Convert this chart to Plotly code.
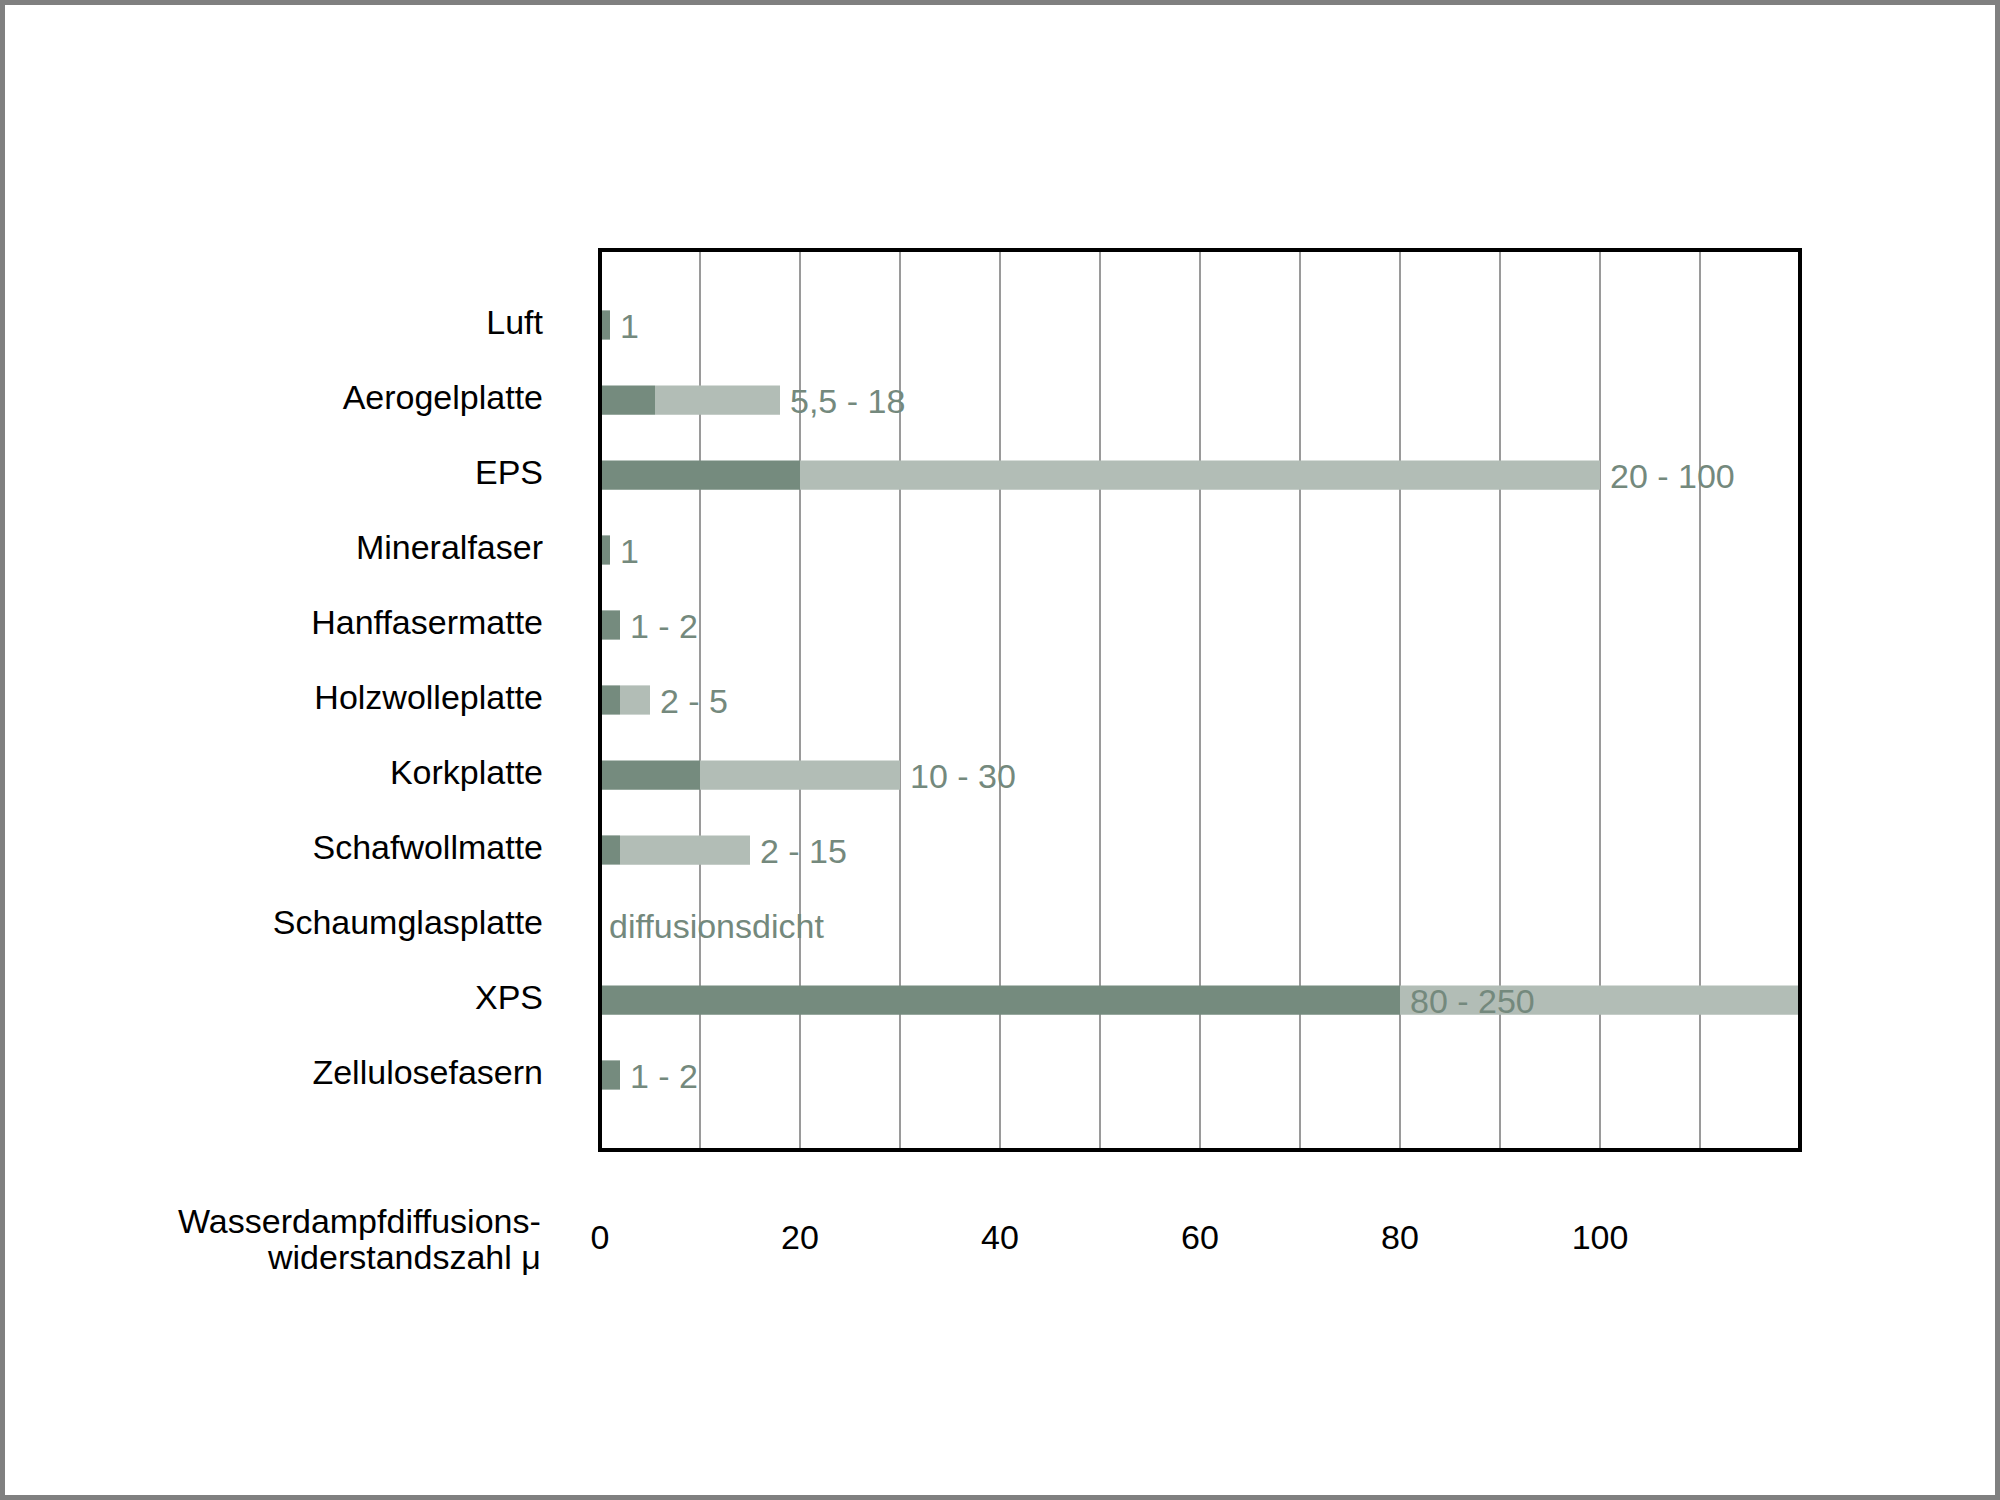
import plotly.graph_objects as go

# ---- data ----
materials = ["Luft", "Aerogelplatte", "EPS", "Mineralfaser", "Hanffasermatte",
             "Holzwolleplatte", "Korkplatte", "Schafwollmatte", "Schaumglasplatte",
             "XPS", "Zellulosefasern"]
mu_low = [1, 5.5, 20, 1, 2, 2, 10, 2, None, 80, 2]
mu_high = [1, 18, 100, 1, 2, 5, 30, 15, None, 250, 2]
value_labels = ["1", "5,5 - 18", "20 - 100", "1", "1 - 2", "2 - 5", "10 - 30",
                "2 - 15", "diffusionsdicht", "80 - 250", "1 - 2"]
tick_values = [0, 10, 20, 30, 40, 50, 60, 70, 80, 90, 100, 110]
tick_labels = ["0", "", "20", "", "40", "", "60", "", "80", "", "100", ""]
axis_title_lines = ["Wasserdampfdiffusions-", "widerstandszahl μ"]
x_max = 120

DARK = "#758b7e"
LIGHT = "#b2bdb6"
LABEL = "#74897d"
FONT = "Liberation Sans, Arial, sans-serif"
FS = 34

W, H = 2000, 1500
L, R, T, B = 600, 200, 250, 350
PW, PH = W - L - R, H - T - B

def px_x(px):
    return (px - L) / PW

def px_y(py):
    return (H - B - py) / PH

ypos = list(range(len(materials)))

dark_x = [v if v is not None else 0 for v in mu_low]
light_base = [v if v is not None else 0 for v in mu_low]
light_x = [(h - l) if (h is not None and l is not None) else 0 for l, h in zip(mu_low, mu_high)]

fig = go.Figure()
fig.add_trace(go.Bar(y=ypos, x=dark_x, base=0, orientation="h", width=0.39,
                     marker=dict(color=DARK, line=dict(width=0)), showlegend=False,
                     hoverinfo="skip"))
fig.add_trace(go.Bar(y=ypos, x=light_x, base=light_base, orientation="h", width=0.39,
                     marker=dict(color=LIGHT, line=dict(width=0)), showlegend=False,
                     hoverinfo="skip"))

annotations = []
for i, (lo, hi, txt) in enumerate(zip(mu_low, mu_high, value_labels)):
    if hi is None:
        ax, shift = 0, 7
    elif hi > x_max:
        ax, shift = lo, 8
    else:
        ax, shift = hi, 8
    annotations.append(dict(x=ax, y=i, xref="x", yref="y", text=txt, showarrow=False,
                            xanchor="left", yanchor="middle", xshift=shift, yshift=-1,
                            font=dict(family=FONT, size=FS, color=LABEL)))

annotations.append(dict(x=px_x(543), y=px_y(1221), xref="paper", yref="paper",
                        text=axis_title_lines[0], showarrow=False, xanchor="right",
                        yanchor="middle", font=dict(family=FONT, size=FS, color="black")))
annotations.append(dict(x=px_x(543), y=px_y(1257), xref="paper", yref="paper",
                        text=axis_title_lines[1], showarrow=False, xanchor="right",
                        yanchor="middle", font=dict(family=FONT, size=FS, color="black")))

shapes = [
    dict(type="rect", xref="paper", yref="paper", x0=0, x1=1, y0=0, y1=1,
         line=dict(color="black", width=4), fillcolor="rgba(0,0,0,0)", layer="above"),
    dict(type="rect", xref="paper", yref="paper",
         x0=px_x(2.5), x1=px_x(W - 2.5), y0=px_y(H - 2.5), y1=px_y(2.5),
         line=dict(color="#808080", width=5), fillcolor="rgba(0,0,0,0)", layer="above"),
]

fig.update_layout(
    width=W, height=H,
    margin=dict(l=L, r=R, t=T, b=B, pad=0),
    paper_bgcolor="white", plot_bgcolor="white",
    barmode="overlay",
    font=dict(family=FONT, size=FS, color="black"),
    annotations=annotations,
    shapes=shapes,
    xaxis=dict(range=[0, x_max], tickvals=tick_values, ticktext=tick_labels,
               showgrid=True, gridcolor="#9a9a9a", gridwidth=1.5, zeroline=False,
               showline=False, ticks="", ticklabelstandoff=64,
               tickfont=dict(family=FONT, size=FS, color="black"), fixedrange=True),
    yaxis=dict(range=[len(materials), -1], tickvals=ypos, ticktext=materials,
               showgrid=False, zeroline=False, showline=False, ticks="",
               ticklabelstandoff=56, ticklabelshift=3,
               tickfont=dict(family=FONT, size=FS, color="black"), fixedrange=True),
)

fig.write_html("out.html")
